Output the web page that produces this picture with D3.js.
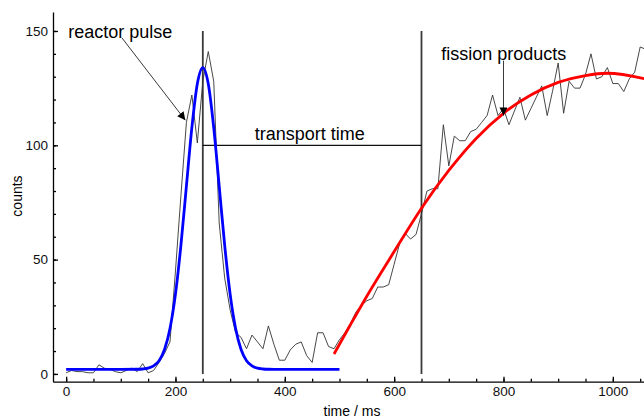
<!DOCTYPE html>
<html>
<head>
<meta charset="utf-8">
<script src="https://cdn.jsdelivr.net/npm/d3@7"></script>
<style>
  body { margin: 0; background: #fff; }
  svg { display: block; font-family: "Liberation Sans", Arial, sans-serif; }
  .axis path, .axis line { stroke: #000; stroke-width: 1.3; }
  .axis text { font-size: 13.5px; fill: #111; font-family: "Liberation Sans", Arial, sans-serif; }
</style>
</head>
<body>
<svg id="chart" width="644" height="419"></svg>
<script>
// measured counts, one point every 10 ms
const times = d3.range(0, 1070, 10);
const counts = [
  0.5, 1.5, 1, 1, 0.5, 0.5, 4, 2.5, 2, 1,
  0.5, 1.5, 2.5, 1, 4.5, 0.5, 1.5, 5, 9, 14,
  45, 78, 110, 122, 101, 128, 141, 128, 66, 42,
  28, 18, 16, 11, 17, 14, 11, 21, 13, 6,
  6, 10.5, 13, 14, 8, 5, 18, 18, 12, 11,
  15, 18, 22, 27, 30, 32, 33, 38, 38, 39,
  48, 57, 61.5, 59, 61, 70, 80, 81, 81, 109,
  91, 104, 102, 102, 106, 107, 110, 113, 122, 113,
  116, 109, 115, 121, 111, 116, 121, 126, 113, 124,
  136, 114, 128, 125, 125, 131, 140, 129, 130, 134,
  127, 127, 123.5, 129, 132, 143, 142
];

// fitted reactor pulse (blue)
const pulseT = [0, 100, 130, 140, 150, 160, 170, 180, 190, 200, 210, 220, 230, 240, 250,
  260, 270, 280, 290, 300, 310, 320, 330, 340, 350, 360, 370, 400, 500];
const pulseC = [2, 2, 2.05, 2.16, 2.5, 3.5, 5.8, 10.7, 19.9, 34.9, 56.3, 82.1, 107.7, 126.9, 134,
  126.9, 107.7, 82.1, 56.3, 34.9, 19.9, 10.7, 5.8, 3.5, 2.5, 2.16, 2.05, 2, 2];

// fitted fission product growth (red)
const fissionT = [490, 520, 550, 600, 650, 700, 750, 800, 850, 900, 950, 990, 1060];
const fissionC = [8.7, 21.5, 34, 53.5, 72.5, 89, 103, 114, 122, 127.5, 130.5, 131.5, 129];

const markerTimes = [250, 650];
const transportLevel = 100;
const xMajor = [0, 200, 400, 600, 800, 1000];
const yMajor = [0, 50, 100, 150];

const svg = d3.select('#chart');
const x = d3.scaleLinear().domain([-24, 1057]).range([53, 644]);
const y = d3.scaleLinear().domain([-3.4, 158.3]).range([381.7, 12]);

svg.append('defs').append('clipPath').attr('id', 'plot')
  .append('rect').attr('x', 53).attr('y', 0).attr('width', 591).attr('height', 382);

// axes, ticks pointing inwards
svg.append('g').attr('class', 'axis').attr('transform', `translate(0,${y.range()[0]})`)
  .call(d3.axisBottom(x).tickValues(d3.range(0, 1051, 50)).tickSizeInner(-3).tickSizeOuter(0).tickFormat(''));
svg.append('g').attr('class', 'axis').attr('transform', `translate(0,${y.range()[0]})`)
  .call(d3.axisBottom(x).tickValues(xMajor).tickSizeInner(-5).tickSizeOuter(0).tickPadding(5)
    .tickFormat(d3.format('d')))
  .call(g => g.select('.domain').remove());
svg.append('g').attr('class', 'axis').attr('transform', `translate(${x.range()[0]},0)`)
  .call(d3.axisLeft(y).tickValues(d3.range(0, 151, 10)).tickSizeInner(-3).tickSizeOuter(0).tickFormat(''));
svg.append('g').attr('class', 'axis').attr('transform', `translate(${x.range()[0]},0)`)
  .call(d3.axisLeft(y).tickValues(yMajor).tickSizeInner(-5).tickSizeOuter(0).tickPadding(5)
    .tickFormat(d3.format('d')))
  .call(g => g.select('.domain').remove());

svg.append('text').attr('transform', 'translate(22,196) rotate(-90)')
  .attr('text-anchor', 'middle').attr('font-size', 14).text('counts');
svg.append('text').attr('x', 352).attr('y', 416)
  .attr('text-anchor', 'middle').attr('font-size', 14).text('time / ms');

const plot = svg.append('g').attr('clip-path', 'url(#plot)');

// transport time markers
plot.selectAll('.marker').data(markerTimes).enter().append('line')
  .attr('class', 'marker')
  .attr('x1', d => x(d)).attr('x2', d => x(d))
  .attr('y1', y(0)).attr('y2', y(150))
  .attr('stroke', '#3a3a3a').attr('stroke-width', 1.8);
plot.append('line')
  .attr('x1', x(markerTimes[0])).attr('x2', x(markerTimes[1]))
  .attr('y1', y(transportLevel)).attr('y2', y(transportLevel))
  .attr('stroke', '#111').attr('stroke-width', 1.3);

const line = d3.line().x(d => x(d[0])).y(d => y(d[1]));
plot.append('path')
  .datum(d3.zip(times, counts))
  .attr('fill', 'none').attr('stroke', '#333').attr('stroke-width', 0.9)
  .attr('d', line);

const smooth = d3.line().curve(d3.curveMonotoneX).x(d => x(d[0])).y(d => y(d[1]));
plot.append('path')
  .datum(d3.zip(pulseT, pulseC))
  .attr('fill', 'none').attr('stroke', '#0000ff').attr('stroke-width', 2.8)
  .attr('d', smooth);
plot.append('path')
  .datum(d3.zip(fissionT, fissionC))
  .attr('fill', 'none').attr('stroke', '#ff0000').attr('stroke-width', 2.8)
  .attr('d', smooth);

// annotations
svg.select('defs').append('marker')
  .attr('id', 'head').attr('viewBox', '0 0 10 10').attr('refX', 10).attr('refY', 5)
  .attr('markerWidth', 11).attr('markerHeight', 8).attr('markerUnits', 'userSpaceOnUse')
  .attr('orient', 'auto')
  .append('path').attr('d', 'M0,0L10,5L0,10Z').attr('fill', '#000');

const notes = [
  { text: 'reactor pulse', t: 4, c: 147, from: [102, 147], to: [218, 111] },
  { text: 'fission products', t: 686, c: 137.5, from: [800, 137], to: [800, 113] },
  { text: 'transport time', t: 345, c: 102.4 }
];
svg.selectAll('.note').data(notes).enter().append('text')
  .attr('class', 'note')
  .attr('x', d => x(d.t)).attr('y', d => y(d.c))
  .attr('font-size', 18).attr('fill', '#000')
  .text(d => d.text);
svg.selectAll('.arrow').data(notes.filter(d => d.from)).enter().append('line')
  .attr('class', 'arrow')
  .attr('x1', d => x(d.from[0])).attr('y1', d => y(d.from[1]))
  .attr('x2', d => x(d.to[0])).attr('y2', d => y(d.to[1]))
  .attr('stroke', '#222').attr('stroke-width', 0.9)
  .attr('marker-end', 'url(#head)');
</script>
</body>
</html>
